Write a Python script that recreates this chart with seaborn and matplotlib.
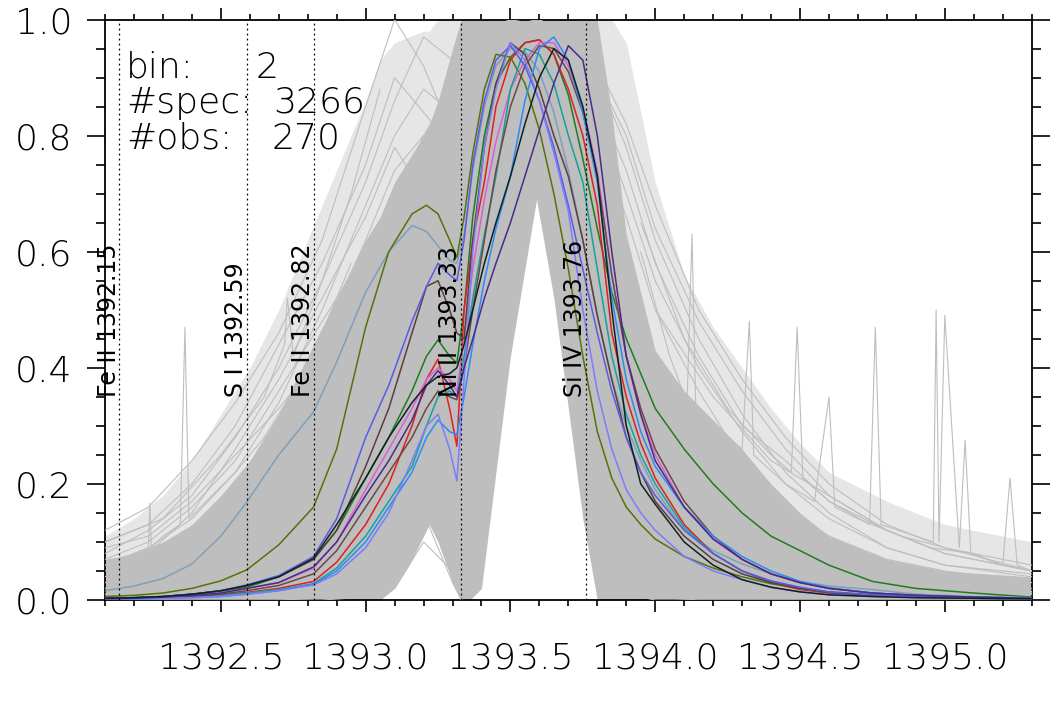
import numpy as np
import seaborn as sns
import matplotlib.pyplot as plt
from matplotlib.ticker import MultipleLocator

sns.set_style('ticks')
plt.rcParams['font.family'] = ['DejaVu Sans']
plt.rcParams['font.weight'] = 'light'
for key in ['text.color', 'axes.labelcolor', 'xtick.color', 'ytick.color']:
    plt.rcParams[key] = 'black'

# wavelength grid of the highlighted spectra
wave = [1392.10, 1392.20, 1392.30, 1392.40, 1392.50, 1392.59, 1392.70, 1392.82, 1392.90, 1393.00,
        1393.08, 1393.16, 1393.21, 1393.25, 1393.29, 1393.315, 1393.34, 1393.37, 1393.41, 1393.45,
        1393.50, 1393.55, 1393.60, 1393.65, 1393.70, 1393.75, 1393.80, 1393.85, 1393.90, 1393.95,
        1394.00, 1394.10, 1394.20, 1394.30, 1394.40, 1394.50, 1394.60, 1394.75, 1394.90, 1395.10, 1395.30]

olive = [.006, .008, .012, .02, .033, .052, .095, .16, .26, .47, .60, .665, .68, .665, .62, .59, .66, .77, .88, .94,
         .935, .89, .81, .70, .57, .42, .29, .21, .16, .13, .105, .075, .055, .04, .028, .02, .014, .009, .006, .004, .003]
steel = [.016, .024, .037, .062, .11, .169, .25, .324, .41, .53, .60, .645, .635, .61, .585, .58, .63, .74, .85, .92,
         .95, .945, .91, .84, .74, .62, .49, .38, .30, .24, .19, .12, .085, .062, .045, .032, .024, .018, .01, .006, .004]
green = [.003, .004, .006, .01, .015, .022, .04, .07, .12, .21, .28, .36, .42, .448, .42, .408, .50, .66, .80, .89,
         .935, .96, .965, .94, .87, .76, .64, .53, .45, .39, .33, .26, .20, .15, .11, .085, .06, .032, .02, .012, .005]
red = [.002, .003, .004, .006, .009, .013, .02, .032, .065, .13, .20, .30, .38, .415, .33, .265, .50, .62, .72, .85,
       .93, .96, .965, .94, .88, .80, .68, .46, .35, .27, .21, .13, .08, .05, .03, .018, .012, .007, .005, .003, .002]
magenta = [.002, .003, .005, .008, .012, .02, .03, .055, .10, .19, .26, .33, .38, .40, .38, .36, .45, .57, .69, .79,
           .88, .93, .96, .96, .92, .85, .74, .56, .42, .32, .25, .16, .105, .07, .045, .03, .02, .012, .008, .005, .003]
teal = [.002, .002, .003, .005, .008, .012, .018, .028, .055, .11, .17, .23, .30, .35, .36, .35, .42, .52, .63, .73,
        .88, .95, .94, .89, .80, .72, .57, .42, .32, .25, .20, .125, .08, .05, .032, .02, .013, .008, .005, .003, .002]
black = [.003, .004, .006, .01, .016, .025, .04, .072, .13, .21, .28, .34, .37, .385, .39, .40, .44, .50, .58, .65,
         .73, .82, .90, .95, .93, .85, .73, .50, .30, .20, .165, .10, .06, .035, .022, .014, .009, .006, .004, .003, .002]
brown = [.003, .004, .006, .01, .016, .025, .04, .07, .12, .23, .33, .46, .54, .55, .50, .46, .45, .62, .78, .89,
         .96, .94, .88, .80, .73, .62, .49, .38, .28, .22, .17, .11, .07, .045, .03, .02, .013, .008, .005, .003, .002]
royal = [.003, .004, .006, .01, .016, .026, .042, .075, .14, .28, .37, .48, .54, .58, .56, .55, .62, .75, .86, .93,
         .955, .92, .86, .78, .68, .57, .46, .36, .28, .22, .18, .12, .08, .05, .033, .022, .014, .009, .006, .004, .002]
slate = [.001, .002, .003, .004, .006, .01, .016, .026, .045, .09, .15, .24, .30, .32, .26, .205, .38, .60, .78, .88,
         .96, .93, .86, .77, .67, .50, .36, .26, .19, .15, .12, .075, .05, .035, .022, .014, .009, .006, .004, .003, .002]
dodger = [.001, .002, .003, .004, .006, .01, .016, .027, .05, .10, .16, .22, .28, .31, .29, .285, .35, .44, .55, .64,
          .73, .86, .95, .97, .93, .84, .72, .52, .38, .29, .23, .16, .11, .075, .05, .032, .021, .012, .008, .005, .003]
purple = [.002, .003, .005, .008, .012, .02, .03, .057, .10, .18, .24, .31, .37, .395, .37, .35, .40, .45, .52, .58,
          .65, .73, .81, .89, .955, .93, .80, .60, .42, .32, .24, .16, .105, .07, .045, .03, .02, .012, .008, .005, .003]
brown2 = [.002, .003, .004, .006, .01, .016, .025, .045, .085, .16, .22, .28, .33, .36, .35, .345, .40, .50, .62, .74,
          .85, .92, .955, .95, .91, .84, .73, .56, .42, .33, .26, .17, .11, .07, .045, .03, .02, .012, .008, .005, .003]

line_sets = [('#1d7d1d', green), ('#7fa0b8', steel), ('#56720a', olive), ('#e02020', red), ('#da5fd8', magenta),
             ('#13a39b', teal), ('#5b3f3f', brown), ('#6e4848', brown2), ('#2b8cf5', dodger), ('#5a5ae6', royal),
             ('#7c7cff', slate), ('#4b2a88', purple), ('#0f2222', black)]

# envelope of the dense cloud of all spectra
cloud_wave = [1392.10, 1392.20, 1392.30, 1392.40, 1392.50, 1392.60, 1392.70, 1392.80, 1392.90, 1393.00,
              1393.05, 1393.10, 1393.15, 1393.20, 1393.22, 1393.25, 1393.30, 1393.33, 1393.36, 1393.40,
              1393.45, 1393.50, 1393.55, 1393.59, 1393.65, 1393.70, 1393.75, 1393.80, 1393.85, 1393.90,
              1394.00, 1394.10, 1394.20, 1394.30, 1394.40, 1394.50, 1394.60, 1394.80, 1395.00, 1395.30]
cloud_top = [.07, .08, .10, .13, .18, .24, .32, .42, .52, .62, .66, .72, .76, .80, .82, .86, .95, 1.0, 1.0, 1.0,
             1.0, 1.0, 1.0, 1.0, 1.0, 1.0, 1.0, 1.0, .84, .63, .43, .36, .31, .26, .20, .15, .11, .07, .05, .04]
cloud_bot = [0, 0, 0, 0, 0, 0, 0, 0, 0, 0, .0, .02, .06, .11, .13, .10, .03, 0, 0, .02,
             .22, .42, .57, .69, .52, .33, .14, 0, 0, 0, 0, 0, 0, 0, 0, 0, 0, 0, 0, 0]
mesh_top = [.11, .14, .18, .24, .32, .40, .50, .62, .74, .86, .93, .96, .97, .98, .98, 1.0, 1.0, 1.0, 1.0, 1.0,
            1.0, 1.0, 1.0, 1.0, 1.0, 1.0, 1.0, 1.0, 1.0, .96, .72, .56, .47, .40, .33, .27, .22, .17, .13, .10]

# individual faint spectra
mesh_wave = [1392.10, 1392.25, 1392.40, 1392.55, 1392.70, 1392.85, 1393.00, 1393.10, 1393.20, 1393.30, 1393.33,
             1393.40, 1393.50, 1393.60, 1393.70, 1393.80, 1393.90, 1394.00, 1394.15, 1394.30, 1394.45, 1394.60,
             1394.80, 1395.00, 1395.30]
mesh_lines = [
    [.12, .16, .24, .34, .46, .62, .85, 1.0, .92, .80, .82, .95, .98, .90, .70, .45, .28, .18, .10, .06, .04, .03, .02, .015, .01],
    [.08, .12, .18, .28, .40, .55, .72, .86, .97, .93, .90, .98, .99, .95, .80, .55, .33, .20, .12, .07, .05, .03, .02, .015, .01],
    [.06, .09, .14, .22, .34, .50, .68, .80, .88, .84, .86, .96, 1.0, .96, .85, .60, .40, .25, .14, .09, .06, .04, .025, .018, .012],
    [.10, .13, .20, .30, .44, .58, .75, .90, .84, .78, .80, .90, .99, .97, .88, .65, .45, .30, .18, .12, .08, .05, .035, .025, .015],
    [.04, .07, .11, .18, .30, .45, .62, .74, .80, .72, .74, .88, .98, 1.0, .92, .74, .52, .34, .20, .12, .08, .05, .03, .02, .015],
    [.05, .08, .15, .26, .38, .52, .66, .78, .70, .62, .68, .85, .97, .99, .90, .70, .48, .30, .18, .11, .07, .045, .03, .02, .012],
    [.07, .10, .16, .24, .36, .48, .60, .70, .76, .70, .72, .86, .96, 1.0, .94, .78, .58, .40, .25, .16, .10, .07, .045, .03, .02],
    [.09, .11, .17, .25, .33, .42, .55, .68, .80, .88, .92, .98, 1.0, .96, .90, .80, .66, .50, .36, .24, .16, .11, .07, .05, .03],
    [.02, .03, .05, .08, .13, .22, .36, .50, .64, .78, .82, .94, 1.0, .99, .96, .90, .78, .62, .45, .32, .22, .15, .09, .06, .04],
    [.03, .04, .06, .10, .16, .26, .40, .55, .70, .82, .86, .96, 1.0, .98, .93, .84, .70, .55, .40, .29, .20, .14, .09, .06, .045],
    [.01, .02, .03, .05, .09, .16, .28, .42, .58, .72, .78, .92, .99, 1.0, .97, .92, .82, .68, .50, .38, .28, .20, .13, .09, .05],
    [.02, .03, .04, .07, .11, .18, .30, .44, .60, .74, .80, .93, 1.0, .98, .94, .86, .74, .58, .42, .30, .24, .17, .12, .08, .05],
    [.01, .01, .02, .04, .07, .12, .22, .34, .50, .66, .72, .90, .99, 1.0, .97, .90, .80, .64, .48, .36, .26, .18, .12, .08, .05],
    [0, 0, 0, 0, 0, 0, .005, .02, .10, .05, 0, .10, .70, .98, .40, .06, .01, 0, 0, 0, 0, 0, 0, 0, 0],
    [0, 0, 0, 0, 0, .003, .01, .05, .15, .03, 0, .05, .45, .95, .55, .12, .02, .005, 0, 0, 0, 0, 0, 0, 0],
]

# spectra with cosmic-ray spikes
spike_waves = [
    [1392.10, 1392.20, 1392.25, 1392.255, 1392.26, 1392.30, 1392.36, 1392.376, 1392.39, 1392.45, 1392.55, 1392.65, 1392.75, 1392.85, 1392.95],
    [1392.10, 1392.30, 1392.50, 1392.65, 1392.72, 1392.73, 1392.75, 1392.85, 1392.95, 1393.05],
    [1393.95, 1394.05, 1394.11, 1394.127, 1394.14, 1394.20, 1394.30, 1394.325, 1394.34, 1394.45, 1394.55, 1394.60, 1394.62, 1394.70, 1394.85, 1395.00, 1395.20, 1395.30],
    [1393.95, 1394.10, 1394.25, 1394.40, 1394.47, 1394.49, 1394.51, 1394.60, 1394.74, 1394.76, 1394.78, 1394.90, 1394.96, 1394.97, 1394.98, 1395.00, 1395.05, 1395.07, 1395.09, 1395.20, 1395.30],
    [1394.00, 1394.20, 1394.40, 1394.60, 1394.80, 1394.95, 1395.10, 1395.20, 1395.225, 1395.25, 1395.30],
]
spike_vals = [
    [.06, .08, .09, .167, .09, .11, .13, .47, .14, .17, .22, .28, .36, .46, .58],
    [.10, .14, .25, .35, .44, .52, .42, .55, .70, .88],
    [.60, .42, .34, .63, .33, .30, .26, .48, .25, .20, .17, .35, .16, .14, .11, .09, .07, .06],
    [.65, .45, .33, .25, .22, .47, .21, .17, .13, .47, .13, .11, .10, .50, .10, .49, .09, .275, .08, .06, .05],
    [.50, .35, .24, .18, .12, .09, .08, .06, .21, .06, .05],
]

line_pos = [1392.15, 1392.59, 1392.82, 1393.33, 1393.76]
line_names = ['Fe II 1392.15', 'S I 1392.59', 'Fe II 1392.82', 'Ni II 1393.33', 'Si IV 1393.76']

info_keys = ['bin:', '#spec:', '#obs:']
info_vals = ['2', '3266', '270']

grey = '#bebebe'

fig = plt.figure(figsize=(10.62, 7.07), dpi=100)
ax = fig.add_axes([105 / 1062, 1 - 600 / 707, 926.7 / 1062, 580.5 / 707])

ax.fill_between(cloud_wave, cloud_top, mesh_top, color='#e6e6e6', lw=0, zorder=1)
ax.fill_between(cloud_wave, cloud_bot, cloud_top, color=grey, lw=0, zorder=2)
for vals in mesh_lines:
    sns.lineplot(x=mesh_wave, y=vals, color=grey, lw=0.8, ax=ax, zorder=3)
for xs, ys in zip(spike_waves, spike_vals):
    sns.lineplot(x=xs, y=ys, color=grey, lw=0.8, ax=ax, zorder=3)

for c, vals in line_sets:
    sns.lineplot(x=wave, y=vals, color=c, lw=1.1, ax=ax, zorder=5)

for lp, name in zip(line_pos, line_names):
    ax.axvline(lp, color='black', ls=(0, (1.5, 2.5)), lw=0.9, zorder=6)
    ax.text(lp + 0.004, 0.35, name, rotation=90, ha='right', va='bottom', fontsize=17,
            fontweight='normal', zorder=7)

for key, val, y, vx in zip(info_keys, info_vals, [0.90, 0.839, 0.778], [0.162, 0.182, 0.180]):
    ax.text(0.023, y, key, transform=ax.transAxes, fontsize=26, va='baseline', zorder=7)
    ax.text(vx, y, val, transform=ax.transAxes, fontsize=26, va='baseline', zorder=7)

ax.set_xlim(1392.10, 1395.30)
ax.set_ylim(0, 1.0)
ax.xaxis.set_minor_locator(MultipleLocator(0.1))
ax.yaxis.set_minor_locator(MultipleLocator(0.05))
ax.set_xticks([1392.5, 1393.0, 1393.5, 1394.0, 1394.5, 1395.0])
ax.set_xticklabels(['1392.5', '1393.0', '1393.5', '1394.0', '1394.5', '1395.0'])
ax.set_yticks([0.0, 0.2, 0.4, 0.6, 0.8, 1.0])
ax.set_yticklabels(['0.0', '0.2', '0.4', '0.6', '0.8', '1.0'])

ax.tick_params(axis='x', which='both', direction='out', top=True, bottom=True, labelsize=26, pad=21.5, width=1.2)
ax.tick_params(axis='x', which='major', length=8.5)
ax.tick_params(axis='x', which='minor', length=4.3)
ax.tick_params(axis='y', which='both', direction='out', left=True, right=True, labelsize=26, pad=11, width=1.2)
ax.tick_params(axis='y', which='major', length=12.7)
ax.tick_params(axis='y', which='minor', length=6.5)
for sp in ax.spines.values():
    sp.set_visible(True)
    sp.set_color('black')
    sp.set_linewidth(1.3)
ax.set_xlabel('')
ax.set_ylabel('')

fig.savefig('out.png', dpi=100)
